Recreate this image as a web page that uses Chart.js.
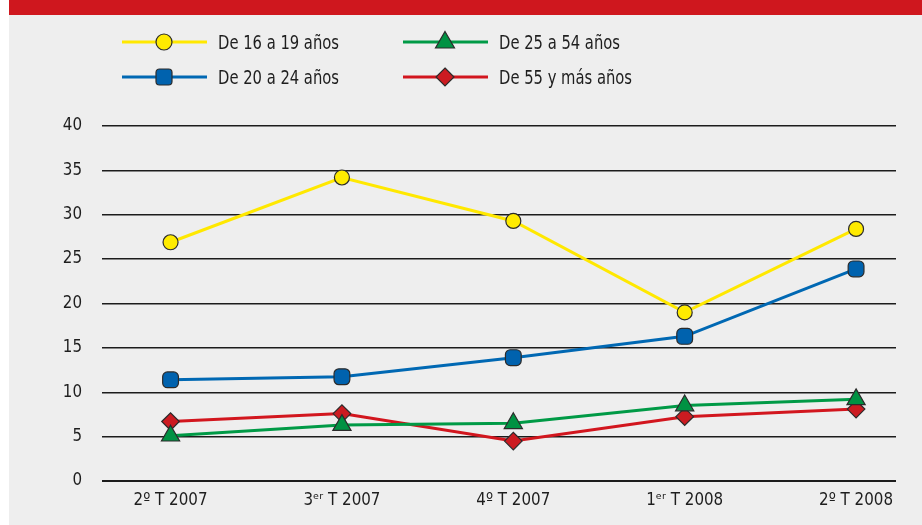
<!DOCTYPE html>
<html>
<head>
<meta charset="utf-8">
<script src="https://cdn.jsdelivr.net/npm/chart.js@4/dist/chart.umd.min.js"></script>
<style>
  html, body { margin: 0; padding: 0; background: #fff; }
  body { width: 922px; height: 525px; position: relative; overflow: hidden; }
  #panel { position: absolute; left: 9px; top: 0; width: 913px; height: 525px; background: #eeeeee; }
  #band { position: absolute; left: 9px; top: 0; width: 913px; height: 15px; background: #cf171e; }
  #chart { position: absolute; left: 0; top: 0; }
  .leg { position: absolute; display: flex; align-items: center; height: 24px; }
  .leg svg { display: block; flex: none; }
  .leg span { color: #1e1e1e; margin-left: 11px; white-space: nowrap; display: inline-block; transform-origin: left center; }
</style>
</head>
<body>
<div id="panel"></div>
<div id="band"></div>
<canvas id="chart" width="922" height="525"></canvas>
<div id="legend"></div>
<script>
const quarters = ['2º T 2007', '3ᵉʳ T 2007', '4º T 2007', '1ᵉʳ T 2008', '2º T 2008']
const seriesNames = ['De 16 a 19 años', 'De 20 a 24 años', 'De 25 a 54 años', 'De 55 y más años']
const teens = [26.9, 34.2, 29.3, 19.0, 28.4]
const young = [11.4, 11.75, 13.9, 16.3, 23.9]
const adults = [5.1, 6.3, 6.5, 8.5, 9.2]
const seniors = [6.7, 7.6, 4.5, 7.25, 8.1]
const yTicks = [0, 5, 10, 15, 20, 25, 30, 35, 40]

const lineColors = ['#ffe800', '#0068b3', '#009a46', '#d2161e']
const fillColors = ['#ffeb00', '#0062ae', '#009243', '#cc1b21']
const shapes = ['circle', 'rectRounded', 'triangle', 'rectRot']
const radii = [7.5, 9.2, 10.5, 8.8]
const FONT = "'Noto Sans Condensed', 'Noto Sans ExtraCondensed', 'Liberation Sans Narrow', 'DejaVu Sans Condensed', sans-serif"

function measure(text, size) {
  const c = document.createElement('canvas').getContext('2d')
  c.font = `${size}px ${FONT}`
  return c.measureText(text).width
}
// tick font size chosen so the labels are about as wide as in the original
const tickSize = Math.min(22, 20 * 74 / measure('2º T 2007', 20))
// legend text keeps its height and is squeezed sideways instead
const legendSize = 20
const legendSqueeze = Math.min(1, 121 / measure('De 16 a 19 años', legendSize))

const allSeries = [teens, young, adults, seniors]

const datasets = allSeries.map((vals, i) => ({
  label: seriesNames[i],
  data: vals.map((v, j) => ({ x: j, y: v })),
  borderColor: lineColors[i],
  borderWidth: 3,
  tension: 0,
  pointStyle: shapes[i],
  pointRadius: radii[i],
  pointHoverRadius: radii[i],
  pointBackgroundColor: fillColors[i],
  pointBorderColor: '#2b2b2b',
  pointBorderWidth: 1.2
}))

new Chart(document.getElementById('chart'), {
  type: 'line',
  data: { datasets },
  options: {
    responsive: false,
    animation: false,
    layout: { padding: { top: 126, right: 26, bottom: 0, left: 0 } },
    plugins: { legend: { display: false }, tooltip: { enabled: false } },
    scales: {
      x: {
        type: 'linear',
        min: -0.4,
        max: 4.233,
        afterFit: s => { s.height = 44 },
        afterBuildTicks: s => { s.ticks = quarters.map((_, i) => ({ value: i })) },
        grid: { display: false, drawTicks: false },
        border: { display: false },
        ticks: {
          padding: 10,
          color: '#1e1e1e',
          font: { family: FONT, size: tickSize },
          callback: v => quarters[v]
        }
      },
      y: {
        min: 0,
        max: 40,
        afterFit: s => { s.width = 102 },
        afterBuildTicks: s => { s.ticks = yTicks.map(v => ({ value: v })) },
        grid: {
          color: '#1c1c1c',
          lineWidth: ctx => ctx.tick && ctx.tick.value === 0 ? 2 : 1.5,
          drawTicks: false
        },
        border: { display: false },
        ticks: {
          padding: 20,
          color: '#1e1e1e',
          font: { family: FONT, size: tickSize }
        }
      }
    }
  }
})

// legend: two columns, line + marker + label
const legendPos = [
  { x: 122, y: 42 }, { x: 122, y: 77 },
  { x: 403, y: 42 }, { x: 403, y: 77 }
]

function markerSvg(i) {
  const c = 42, m = 12, fill = fillColors[i], st = 'stroke="#2b2b2b" stroke-width="1.2"'
  let shape
  if (shapes[i] === 'circle') shape = `<circle cx="${c}" cy="${m}" r="8" fill="${fill}" ${st}/>`
  else if (shapes[i] === 'rectRounded') shape = `<rect x="${c - 8}" y="${m - 8}" width="16" height="16" rx="3.5" fill="${fill}" ${st}/>`
  else if (shapes[i] === 'triangle') shape = `<polygon points="${c},${m - 10.5} ${c + 9.5},${m + 6} ${c - 9.5},${m + 6}" fill="${fill}" ${st}/>`
  else shape = `<polygon points="${c},${m - 9} ${c + 9},${m} ${c},${m + 9} ${c - 9},${m}" fill="${fill}" ${st}/>`
  return `<svg width="85" height="24"><line x1="0" y1="${m}" x2="85" y2="${m}" stroke="${lineColors[i]}" stroke-width="3"/>${shape}</svg>`
}

const legend = document.getElementById('legend')
seriesNames.forEach((name, i) => {
  const el = document.createElement('div')
  el.className = 'leg'
  el.style.left = legendPos[i].x + 'px'
  el.style.top = (legendPos[i].y - 12) + 'px'
  el.innerHTML = markerSvg(i) +
    `<span style="font: ${legendSize}px ${FONT}; transform: scaleX(${legendSqueeze})">${name}</span>`
  legend.appendChild(el)
})
</script>
</body>
</html>
